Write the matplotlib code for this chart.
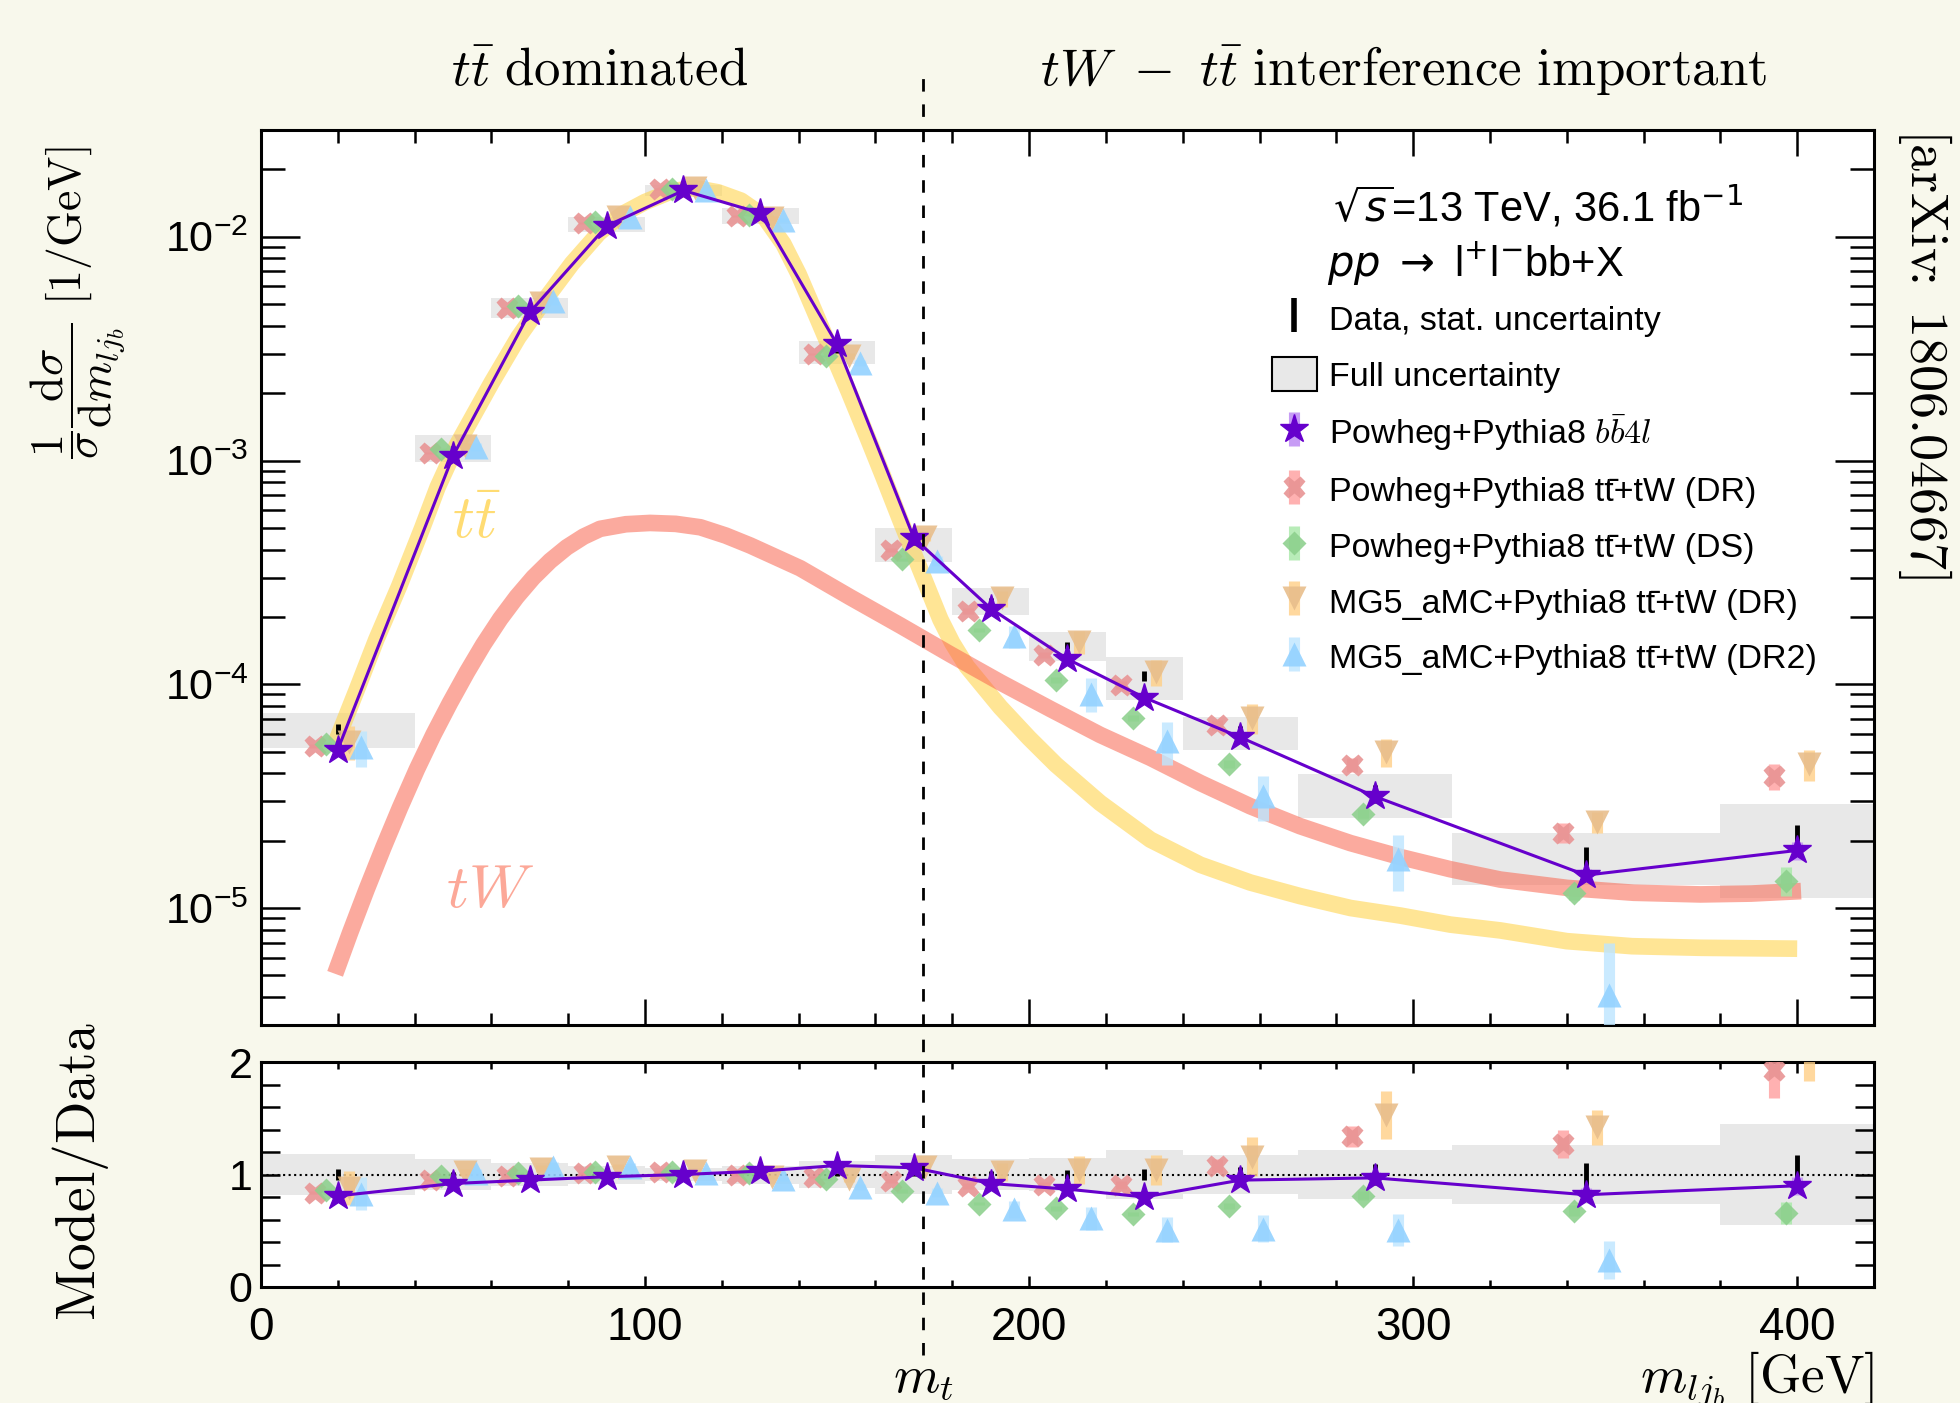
import numpy as np
import matplotlib
matplotlib.use('Agg')
import matplotlib.pyplot as plt
from matplotlib.lines import Line2D
from matplotlib.patches import Patch
from matplotlib import transforms
from matplotlib.ticker import MultipleLocator, LogLocator, NullFormatter, FixedLocator

plt.rcParams['font.family'] = ['Liberation Sans', 'DejaVu Sans']
plt.rcParams['mathtext.fontset'] = 'cm'

BG = '#F8F8EC'

# binning of m_ljb
edges = [0, 40, 60, 80, 100, 120, 140, 160, 180, 200, 220, 240, 270, 310, 380, 420]
centers = [20, 50, 70, 90, 110, 130, 150, 170, 190, 210, 230, 255, 290, 345, 400]

# measured distribution [1/GeV]
data = [6.3e-5, 1.14e-3, 4.84e-3, 1.14e-2, 1.61e-2, 1.24e-2, 3.06e-3, 4.25e-4,
        2.37e-4, 1.49e-4, 1.09e-4, 6.1e-5, 3.25e-5, 1.71e-5, 2.01e-5]
data_stat = [0.05, 0.02, 0.01, 0.01, 0.01, 0.01, 0.01, 0.015, 0.03, 0.04, 0.05, 0.065, 0.09, 0.10, 0.17]
data_full = [0.18, 0.14, 0.10, 0.08, 0.06, 0.08, 0.12, 0.17, 0.14, 0.15, 0.22, 0.17, 0.22, 0.26, 0.45]

# model / data ratios and relative MC uncertainties
r_bb4l = [0.81, 0.92, 0.95, 0.98, 1.00, 1.03, 1.08, 1.06, 0.92, 0.87, 0.80, 0.95, 0.97, 0.82, 0.90]
e_bb4l = [0.01, 0.01, 0.01, 0.01, 0.01, 0.01, 0.01, 0.015, 0.02, 0.03, 0.03, 0.04, 0.05, 0.07, 0.09]
r_dr = [0.84, 0.95, 0.99, 1.01, 1.02, 1.00, 0.98, 0.94, 0.90, 0.91, 0.91, 1.08, 1.34, 1.27, 1.93]
e_dr = [0.02, 0.01, 0.01, 0.01, 0.01, 0.01, 0.01, 0.02, 0.03, 0.03, 0.04, 0.05, 0.07, 0.10, 0.13]
r_ds = [0.86, 0.99, 1.01, 1.02, 1.02, 1.01, 0.96, 0.85, 0.74, 0.70, 0.65, 0.72, 0.81, 0.68, 0.66]
e_ds = [0.02, 0.01, 0.01, 0.01, 0.01, 0.01, 0.01, 0.02, 0.02, 0.03, 0.03, 0.04, 0.05, 0.07, 0.15]
r_mg = [0.88, 1.02, 1.05, 1.07, 1.03, 0.98, 0.96, 1.07, 1.02, 1.04, 1.04, 1.16, 1.53, 1.42, 2.18]
e_mg = [0.17, 0.03, 0.03, 0.02, 0.02, 0.02, 0.03, 0.04, 0.08, 0.12, 0.13, 0.15, 0.14, 0.11, 0.16]
r_dr2 = [0.83, 1.01, 1.07, 1.07, 1.01, 0.96, 0.89, 0.84, 0.69, 0.61, 0.51, 0.52, 0.51, 0.24, np.nan]
e_dr2 = [0.18, 0.04, 0.04, 0.03, 0.02, 0.02, 0.03, 0.05, 0.11, 0.17, 0.22, 0.23, 0.28, 0.70, np.nan]

# schematic ttbar and tW shapes
tt_x = [19.5, 25, 30, 36, 42, 46, 51, 60, 67, 74, 81, 88, 94, 100, 107, 113, 119, 125, 131,
        136, 140, 144, 148, 153, 158, 162, 166.5, 171.7, 176.9, 180, 183.8, 192.5, 200, 207,
        218.5, 231.6, 244.6, 257.6, 270.6, 283.7, 296.7, 309.7, 322.7, 340, 357, 375, 400]
tt_y = [5.5e-5, 9.5e-5, 1.58e-4, 2.75e-4, 5.0e-4, 7.6e-4, 1.17e-3, 2.22e-3, 3.55e-3, 5.25e-3,
        7.6e-3, 1.04e-2, 1.26e-2, 1.43e-2, 1.60e-2, 1.65e-2, 1.58e-2, 1.45e-2, 1.23e-2,
        9.3e-3, 6.8e-3, 4.7e-3, 3.24e-3, 2.04e-3, 1.26e-3, 8.5e-4, 5.4e-4, 3.24e-4, 1.95e-4,
        1.53e-4, 1.2e-4, 7.9e-5, 5.75e-5, 4.37e-5, 2.95e-5, 2.02e-5, 1.56e-5, 1.30e-5, 1.13e-5,
        1.0e-5, 9.25e-6, 8.43e-6, 7.94e-6, 7.11e-6, 6.75e-6, 6.64e-6, 6.58e-6]
tw_x = [19.3, 23.2, 27.5, 31.9, 36.2, 40.6, 44.9, 49.2, 53.6, 57.9, 62.3, 66.6, 70.9, 75.3,
        79.6, 84, 88.3, 95, 101.3, 108, 114.4, 121, 127.4, 140.4, 153.4, 166.5, 179.5, 192.5,
        205.5, 218.5, 231.6, 244.6, 257.6, 270.6, 283.7, 296.7, 309.7, 322.7, 340.1, 357.4,
        374.8, 388, 401]
tw_y = [5.08e-6, 7.75e-6, 1.21e-5, 1.87e-5, 2.81e-5, 4.17e-5, 5.95e-5, 8.25e-5, 1.13e-4,
        1.505e-4, 1.96e-4, 2.46e-4, 3.0e-4, 3.56e-4, 4.09e-4, 4.57e-4, 4.95e-4, 5.19e-4,
        5.26e-4, 5.21e-4, 5.03e-4, 4.62e-4, 4.17e-4, 3.3e-4, 2.45e-4, 1.83e-4, 1.36e-4,
        1.02e-4, 7.76e-5, 5.94e-5, 4.69e-5, 3.62e-5, 2.85e-5, 2.32e-5, 1.95e-5, 1.69e-5,
        1.49e-5, 1.34e-5, 1.23e-5, 1.17e-5, 1.15e-5, 1.16e-5, 1.19e-5]

m_top = 172.5

edges = np.array(edges, dtype=float)
centers = np.array(centers, dtype=float)
data = np.array(data)
data_stat = np.array(data_stat)
data_full = np.array(data_full)

fig = plt.figure(figsize=(19.6, 14.03), dpi=100, facecolor=BG)
ax = fig.add_axes([0.13316, 0.26942, 0.82296, 0.63792])
rx = fig.add_axes([0.13316, 0.08268, 0.82296, 0.16037])

widths = np.diff(edges)
# full uncertainty boxes
ax.bar(edges[:-1], 2 * data * data_full, bottom=data * (1 - data_full), width=widths,
       align='edge', color='#E8E8E8', lw=0, zorder=1)
rx.bar(edges[:-1], 2 * data_full, bottom=1 - data_full, width=widths,
       align='edge', color='#E8E8E8', lw=0, zorder=1)

ax.plot(tt_x, tt_y, color='#FFD54F', alpha=0.6, lw=12, solid_capstyle='butt',
        solid_joinstyle='round', zorder=2)
ax.plot(tw_x, tw_y, color='#F9654F', alpha=0.55, lw=12, solid_capstyle='butt',
        solid_joinstyle='round', zorder=2)
ax.text(56, 5.3e-4, r'$t\bar{t}$', color='#FFDC73', fontsize=44, ha='center', va='center')
ax.text(59.6, 1.18e-5, r'$tW$', color='#FCA898', fontsize=44, ha='center', va='center')

# data, stat. uncertainty
ax.errorbar(centers, data, yerr=data * data_stat, fmt='none', ecolor='k',
            elinewidth=3.5, capsize=0, zorder=3)
rx.errorbar(centers, np.ones_like(centers), yerr=data_stat, fmt='none', ecolor='k',
            elinewidth=3.5, capsize=0, zorder=3)

models = [
    ('Powheg+Pythia8 tt\u0304+tW (DR)', r_dr, e_dr, -6, 'X', 16, '#E89494E6', '#FFA0A0D0'),
    ('Powheg+Pythia8 tt\u0304+tW (DS)', r_ds, e_ds, -3, 'D', 12, '#8CD08CE0', '#A8E8A8D0'),
    ('MG5_aMC+Pythia8 tt\u0304+tW (DR)', r_mg, e_mg, 3, 'v', 17, '#E8BE8CE6', '#FFD088D0'),
    ('MG5_aMC+Pythia8 tt\u0304+tW (DR2)', r_dr2, e_dr2, 6, '^', 17, '#94D2FFE6', '#BEE6FFD0'),
]
handles = {}
for label, r, e, off, mk, ms, mc, ec in models:
    r = np.array(r)
    e = np.array(e)
    y = data * r
    h = ax.errorbar(centers + off, y, yerr=y * e, fmt=mk, ms=ms, mfc=mc, mec='none',
                    ecolor=ec, elinewidth=8, capsize=0, zorder=4, label=label)
    rx.errorbar(centers + off, r, yerr=r * e, fmt=mk, ms=ms, mfc=mc, mec='none',
                ecolor=ec, elinewidth=8, capsize=0, zorder=4)
    handles[label] = h

purple = '#6600CC'
r_bb4l = np.array(r_bb4l)
e_bb4l = np.array(e_bb4l)
y_bb4l = data * r_bb4l
ax.plot(centers, y_bb4l, color=purple, lw=2.2, zorder=5)
h_bb4l = ax.errorbar(centers, y_bb4l, yerr=y_bb4l * e_bb4l, fmt='*', ms=21, mfc=purple,
                     mec=purple, ecolor='#C79CF5', elinewidth=8, capsize=0, zorder=6,
                     label=r'Powheg+Pythia8 $b\bar{b}4l$')
rx.plot(centers, r_bb4l, color=purple, lw=2.2, zorder=5)
rx.errorbar(centers, r_bb4l, yerr=r_bb4l * e_bb4l, fmt='*', ms=21, mfc=purple, mec=purple,
            ecolor='#C79CF5', elinewidth=8, capsize=0, zorder=6)

rx.axhline(1.0, color='k', ls=':', lw=1.5, zorder=2)

# axes styling
ax.set_yscale('log')
ax.set_xlim(0, 420)
ax.set_ylim(3e-6, 3e-2)
rx.set_xlim(0, 420)
rx.set_ylim(0, 2)

for a in (ax, rx):
    a.set_facecolor('white')
    for s in a.spines.values():
        s.set_linewidth(2.2)
    a.xaxis.set_major_locator(MultipleLocator(100))
    a.xaxis.set_minor_locator(MultipleLocator(20))
    a.tick_params(which='both', direction='in', top=True, right=True, width=1.8)

ax.yaxis.set_major_locator(LogLocator(base=10, numticks=10))
ax.yaxis.set_minor_locator(LogLocator(base=10, subs=np.arange(2, 10), numticks=20))
ax.yaxis.set_minor_formatter(NullFormatter())
ax.tick_params(axis='x', which='major', length=19, labelbottom=False)
ax.tick_params(axis='x', which='minor', length=9)
ax.tick_params(axis='y', which='major', length=28, labelsize=31, pad=9)
ax.tick_params(axis='y', which='minor', length=17)

rx.yaxis.set_major_locator(FixedLocator([0, 1, 2]))
rx.yaxis.set_minor_locator(MultipleLocator(0.2))
rx.tick_params(axis='y', which='both', length=14, labelsize=31, pad=6)
rx.tick_params(axis='x', which='major', length=8, labelsize=33, pad=14)
rx.tick_params(axis='x', which='minor', length=5)

ax.set_ylabel(r'$\dfrac{1}{\sigma}\dfrac{\mathrm{d}\sigma}{\mathrm{d}m_{lj_b}}\ [1/\mathrm{GeV}]$',
              fontsize=33, va='center')
ax.yaxis.set_label_coords(-0.1135, 0.807)
rx.set_ylabel(r'$\mathrm{Model/Data}$', fontsize=40, va='center')
rx.yaxis.set_label_coords(-0.1116, 0.51)

# legend
data_h = Line2D([], [], color='k', lw=0, marker='|', ms=25, mew=4)
unc_h = Patch(facecolor='#E8E8E8', edgecolor='k', lw=1.5)
order = [data_h, unc_h, h_bb4l] + [handles[m[0]] for m in models]
labels = ['Data, stat. uncertainty', 'Full uncertainty', r'Powheg+Pythia8 $b\bar{b}4l$'] + \
         [m[0] for m in models]
ax.legend(order, labels, loc='upper left', bbox_to_anchor=(0.6265, 0.809), frameon=False,
          fontsize=24.5, borderpad=0, borderaxespad=0, handlelength=1.33,
          handletextpad=0.35, labelspacing=0.58, handleheight=1.2)

fig.text(0.680, 0.842, r'$\sqrt{s}$=13 TeV, 36.1 fb$^{-1}$', fontsize=30,
         math_fontfamily='dejavusans')
fig.text(0.677, 0.803, r'$pp$ $\rightarrow$ l$^{+}$l$^{-}$bb+X', fontsize=30,
         math_fontfamily='dejavusans')

# headline regions and top-mass marker
fig.text(0.306, 0.939, r'$t\bar{t}\ \mathrm{dominated}$', ha='center', va='baseline',
         fontsize=38)
fig.text(0.716, 0.939, r'$tW\ -\ t\bar{t}\ \mathrm{interference\ important}$', ha='center',
         va='baseline', fontsize=38)
fig.text(0.982, 0.748, r'$[\mathrm{arXiv}\!\!:\ \mathrm{1806.04667}]$', rotation=270,
         ha='center', va='center', fontsize=39)

trans = transforms.blended_transform_factory(ax.transData, fig.transFigure)
fig.add_artist(Line2D([m_top, m_top], [0.034, 0.95], transform=trans, color='k', lw=2,
                      ls=(0, (4.5, 4.6)), zorder=5))
fig.text(m_top, 0.008, r'$m_t$', transform=trans, ha='center', va='baseline', fontsize=38)
fig.text(0.956, 0.008, r'$m_{lj_b}\ [\mathrm{GeV}]$', ha='right', va='baseline', fontsize=38)

fig.savefig('out.png', dpi=100, facecolor=BG)
